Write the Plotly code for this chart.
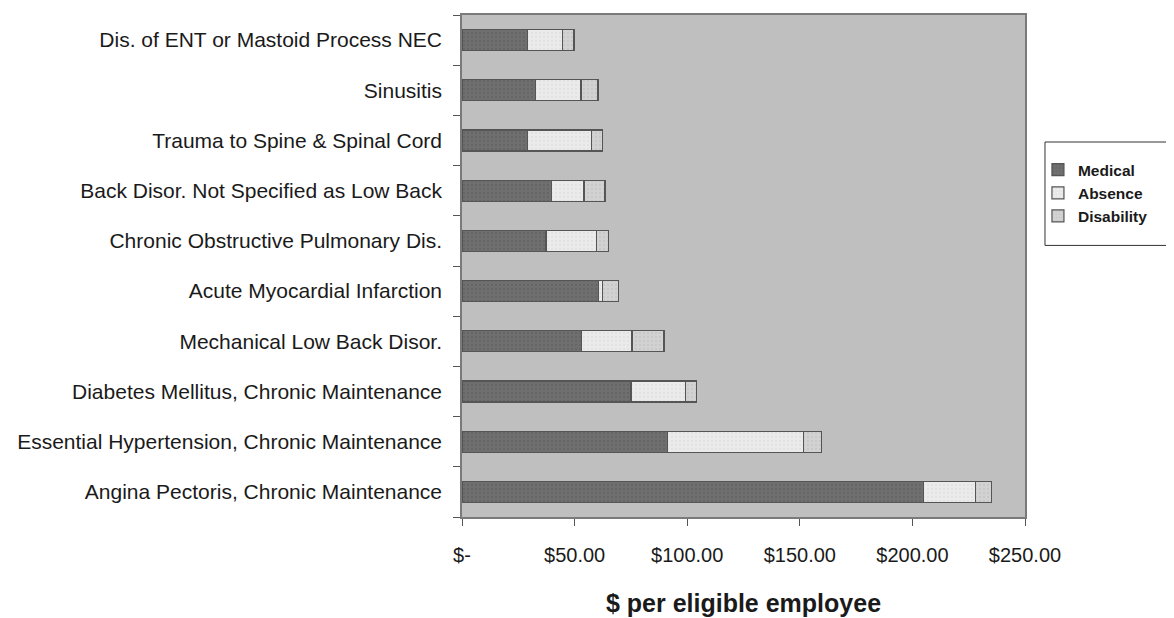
import plotly.graph_objects as go

# categories listed bottom -> top (as drawn)
categories = [
    "Angina Pectoris, Chronic Maintenance",
    "Essential Hypertension, Chronic Maintenance",
    "Diabetes Mellitus, Chronic Maintenance",
    "Mechanical Low Back Disor.",
    "Acute Myocardial Infarction",
    "Chronic Obstructive Pulmonary Dis.",
    "Back Disor. Not Specified as Low Back",
    "Trauma to Spine & Spinal Cord",
    "Sinusitis",
    "Dis. of ENT or Mastoid Process NEC",
]
medical = [205.0, 91.3, 75.0, 53.0, 60.5, 37.3, 39.6, 29.2, 32.8, 29.2]
absence = [23.0, 60.2, 24.4, 22.5, 2.0, 22.5, 14.6, 28.3, 20.0, 15.3]
disability = [7.0, 8.2, 4.8, 14.2, 7.0, 5.2, 9.3, 4.9, 7.6, 5.2]

x_tickvals = [0, 50, 100, 150, 200, 250]
x_ticktext = ["$-", "$50.00", "$100.00", "$150.00", "$200.00", "$250.00"]

FONT = "Liberation Sans, Arial, sans-serif"

fig = go.Figure()
series = [
    ("Medical", medical, "#6f6f6f", "#5a5a5a"),
    ("Absence", absence, "#ebebeb", "#d8d8d8"),
    ("Disability", disability, "#d2d2d2", "#bcbcbc"),
]
for name, vals, col, dots in series:
    fig.add_trace(go.Bar(
        y=categories, x=vals, name="<b>" + name + "</b>", orientation="h",
        legendgroup=name,
        marker=dict(color=col, line=dict(color="#555555", width=1.2),
                    pattern=dict(shape=".", fgcolor=dots, bgcolor=col,
                                 size=4, solidity=0.25)),
    ))

# legend frame (bigger padding than plotly's own border gives)
fig.add_shape(type="rect", xref="paper", yref="paper",
              x0=1.0355, x1=1.255, y0=0.541, y1=0.747,
              fillcolor="white", line=dict(color="#333333", width=1),
              layer="below")

fig.update_layout(
    barmode="stack", bargap=0.58,
    width=1166, height=610,
    paper_bgcolor="white", plot_bgcolor="#bfbfbf",
    margin=dict(l=454, r=149, t=5, b=91),
    font=dict(family=FONT, size=21, color="#1a1a1a"),
    xaxis=dict(range=[0, 250], tickvals=x_tickvals, ticktext=x_ticktext,
               tickfont=dict(size=20),
               showgrid=False, zeroline=False,
               showline=True, linecolor="#7a7a7a", linewidth=1.5, mirror=True,
               ticks="outside", ticklen=7, tickcolor="#555555",
               ticklabelstandoff=12,
               title=dict(text="<b>$ per eligible employee</b>",
                          font=dict(size=25, color="#1a1a1a"), standoff=30)),
    yaxis=dict(showgrid=False, zeroline=False, tickson="boundaries",
               showline=True, linecolor="#7a7a7a", linewidth=1.5, mirror=True,
               ticks="outside", ticklen=7, tickcolor="#555555",
               ticklabelstandoff=14),
    legend=dict(x=1.023, y=0.725, xanchor="left", yanchor="top",
                traceorder="normal", bgcolor="rgba(0,0,0,0)",
                borderwidth=0,
                font=dict(size=15.5, color="#1a1a1a", family=FONT),
                itemwidth=30, tracegroupgap=6),
)

fig.write_html("out.html")
